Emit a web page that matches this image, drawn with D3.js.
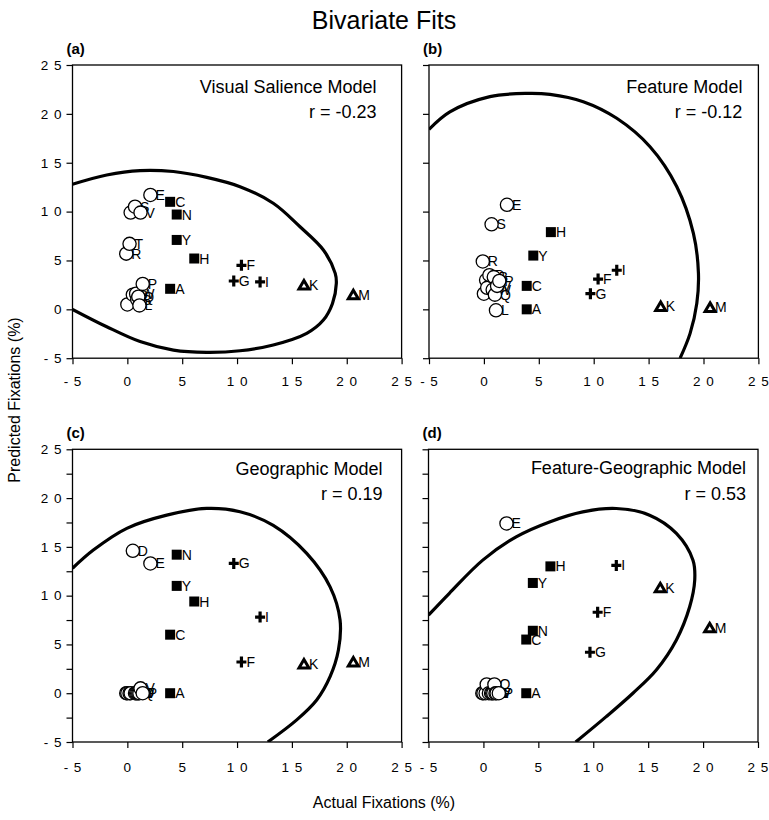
<!DOCTYPE html>
<html><head><meta charset="utf-8">
<script src="https://cdn.jsdelivr.net/npm/d3@7"></script>
<style>
body{margin:0;background:#fff}
text{font-family:"Liberation Sans",Arial,Helvetica,sans-serif;fill:#000}
</style>
</head><body>
<svg id="chart" width="769" height="820"></svg>
<script>
// ---- data ----
const letters = ["A","C","H","N","Y","F","G","I","K","M","B","D","E","J","L","O","P","Q","R","S","T","V","W"];
const markerTypes = ["square","square","square","square","square","plus","plus","plus","triangle","triangle",
  "circle","circle","circle","circle","circle","circle","circle","circle","circle","circle","circle","circle","circle"];
const actualFix = [3.9,3.9,6.1,4.5,4.5,10.4,9.7,12.1,16.1,20.6, 0.9,0.5,2.1,0.3,1.1,0.0,1.4,1.0,-0.1,0.7,0.2,1.2,0.8];
const predSalience   = [2.1,11.0,5.2,9.7,7.1,4.5,2.9,2.8,2.5,1.5, 1.0,1.5,11.7,9.9,0.4,0.5,2.6,1.3,5.7,10.5,6.7,9.9,1.6];
const predFeature    = [0.0,2.4,7.9,null,5.5,3.1,1.6,4.0,0.3,0.2, 3.3,3.5,10.7,2.2,-0.1,1.6,2.9,1.5,4.9,8.7,3.0,2.4,2.0];
const predGeographic = [0.0,6.0,9.4,14.2,11.0,3.2,13.3,7.8,3.0,3.2, 0.0,14.6,13.3,0.0,0.0,0.0,0.0,0.0,0.0,0.0,0.0,0.5,0.0];
const predFeatGeo    = [0.0,5.5,13.0,6.4,11.3,8.3,4.2,13.1,10.8,6.7, 0.0,0.0,17.4,0.9,0.0,0.0,0.0,0.9,0.0,0.0,0.0,0.0,0.0];

const ellipseSalience = [[-5,12.8],[-1.88,13.75],[1.16,14.2],[4.2,14.1],[7.24,13.5],[10.27,12.55],[13.3,10.85],[15.74,8.45],[17.87,6.07],[18.95,3.68],[19.05,2.66],[18.7,0.6],[17.87,-1.1],[16.35,-2.46],[13.3,-3.65],[10.27,-4.24],[7.24,-4.4],[4.2,-4.17],[1.16,-3.3],[-1.88,-1.78],[-5,0.0]];
const ellipseFeature = [[-5,18.4],[-3.1,20.2],[0.55,21.76],[3.89,22.1],[6.02,22.0],[9.05,21.25],[12.1,19.55],[15.13,16.64],[17.57,12.55],[19.08,7.78],[19.54,3.68],[19.39,0.61],[18.78,-2.46],[17.87,-5.0]];
const ellipseGeographic = [[-5,12.8],[-3.1,14.67],[-0.05,16.9],[3.59,18.25],[7.24,18.94],[10.27,18.6],[13.3,17.2],[16.35,14.33],[18.48,10.9],[19.39,7.5],[19.24,4.43],[18.48,1.7],[17.26,-0.69],[15.44,-2.73],[12.8,-5.0]];
const ellipseFeatGeo = [[-5,8.0],[-3.1,10.24],[-0.06,13.64],[2.98,16.03],[6.02,17.56],[9.05,18.59],[12.1,18.93],[15.13,18.25],[17.57,16.38],[19.08,13.64],[19.24,11.6],[18.78,8.86],[17.57,5.46],[15.74,2.38],[13.61,0.0],[11.18,-2.4],[8.4,-5.0]];

const modelNames = ["Visual Salience Model","Feature Model","Geographic Model","Feature-Geographic Model"];
const rTexts = ["r = -0.23","r = -0.12","r = 0.19","r = 0.53"];
const panelTags = ["(a)","(b)","(c)","(d)"];
const tickValues = [-5,0,5,10,15,20,25];
const tickLabels = ["- 5","0","5","1 0","1 5","2 0","2 5"];
const axisDomain = [-5,25];

// ---- layout ----
const svg = d3.select("#chart");
const panels = [
  {x0:72.5, x1:401.6, y0:65,    y1:358.2, pred:predSalience,   ell:ellipseSalience,   yLabels:true,  minor:false, xlab:28, tx:-25, ty1:93, ty2:118},
  {x0:429,  x1:758.4, y0:65,    y1:358.2, pred:predFeature,    ell:ellipseFeature,    yLabels:false, minor:false, xlab:28, tx:-16, ty1:93, ty2:118},
  {x0:72.5, x1:401.6, y0:449.3, y1:742,   pred:predGeographic, ell:ellipseGeographic, yLabels:true,  minor:true,  xlab:30, tx:-19, ty1:475, ty2:500},
  {x0:428.5,x1:758,   y0:449.3, y1:742,   pred:predFeatGeo,    ell:ellipseFeatGeo,    yLabels:false, minor:true,  xlab:30, tx:-12, ty1:474, ty2:500}
];

svg.append("text").attr("x",384).attr("y",29).attr("text-anchor","middle")
  .attr("font-size",25).text("Bivariate Fits");
svg.append("text").attr("transform","translate(20,400) rotate(-90)").attr("text-anchor","middle")
  .attr("font-size",16).text("Predicted Fixations (%)");
svg.append("text").attr("x",384).attr("y",808).attr("text-anchor","middle")
  .attr("font-size",16).text("Actual Fixations (%)");

panels.forEach((p,i)=>{
  const x = d3.scaleLinear().domain(axisDomain).range([p.x0,p.x1]);
  const y = d3.scaleLinear().domain(axisDomain).range([p.y1,p.y0]);
  const g = svg.append("g");

  g.append("clipPath").attr("id","clip"+i).append("rect")
    .attr("x",p.x0).attr("y",p.y0).attr("width",p.x1-p.x0).attr("height",p.y1-p.y0);

  // frame
  g.append("rect").attr("x",p.x0).attr("y",p.y0).attr("width",p.x1-p.x0).attr("height",p.y1-p.y0)
    .attr("fill","none").attr("stroke","#000").attr("stroke-width",1.3);

  // y axis
  const yTicks = p.minor ? d3.range(-5,25.01,2.5) : tickValues;
  const yAxis = d3.axisLeft(y).tickValues(yTicks).tickSize(6).tickPadding(4)
    .tickFormat(v => p.yLabels && tickValues.indexOf(v)>=0 ? tickLabels[tickValues.indexOf(v)] : "");
  const ya = g.append("g").attr("transform",`translate(${p.x0},0)`).call(yAxis);
  ya.select(".domain").remove();
  ya.selectAll("line").attr("stroke-width",1.2);
  ya.selectAll("text").attr("font-size",13.5).attr("letter-spacing",1)
    .style("font-family","'Liberation Sans',Arial,sans-serif");

  // x axis
  const xAxis = d3.axisBottom(x).tickValues(tickValues).tickSize(6).tickPadding(0)
    .tickFormat((v,k)=>tickLabels[k]);
  const xa = g.append("g").attr("transform",`translate(0,${p.y1})`).call(xAxis);
  xa.select(".domain").remove();
  xa.selectAll("line").attr("stroke-width",1.2);
  xa.selectAll("text").attr("font-size",13.5).attr("letter-spacing",1).attr("dy",null).attr("y",p.xlab)
    .style("font-family","'Liberation Sans',Arial,sans-serif");

  // ellipse
  const line = d3.line().x(d=>x(d[0])).y(d=>y(d[1])).curve(d3.curveCatmullRom.alpha(0.5));
  g.append("path").attr("clip-path",`url(#clip${i})`).attr("d",line(p.ell))
    .attr("fill","none").attr("stroke","#000").attr("stroke-width",3.2);

  // model text
  g.append("text").attr("x",p.x1+p.tx).attr("y",p.ty1).attr("text-anchor","end")
    .attr("font-size",18).text(modelNames[i]);
  g.append("text").attr("x",p.x1+p.tx).attr("y",p.ty2).attr("text-anchor","end")
    .attr("font-size",18).text(rTexts[i]);
  g.append("text").attr("x",p.x0-6).attr("y",p.y0-11).attr("font-size",15).attr("font-weight","bold")
    .text(panelTags[i]);

  // points
  const pts = letters.map((l,k)=>({l, t:markerTypes[k], x:actualFix[k], y:p.pred[k]}))
    .filter(d=>d.y!==null).sort((a,b)=>a.x-b.x);
  const pg = g.append("g");
  pg.selectAll("text.lbl").data(pts).join("text").attr("class","lbl")
    .attr("x",d=>x(d.x)+5).attr("y",d=>y(d.y)+5).attr("font-size",14).text(d=>d.l);
  pts.forEach(d=>{
    const cx = x(d.x), cy = y(d.y);
    if(d.t==="circle"){
      pg.append("circle").attr("cx",cx).attr("cy",cy).attr("r",6.6)
        .attr("fill","#fff").attr("stroke","#000").attr("stroke-width",1.3);
    } else if(d.t==="square"){
      pg.append("rect").attr("x",cx-5).attr("y",cy-5).attr("width",10).attr("height",10).attr("fill","#000");
    } else if(d.t==="plus"){
      pg.append("path").attr("d",`M${cx-5},${cy}H${cx+5}M${cx},${cy-5.5}V${cy+5.5}`)
        .attr("stroke","#000").attr("stroke-width",3.2).attr("fill","none");
    } else {
      pg.append("path").attr("d",`M${cx},${cy-4.5}L${cx+5},${cy+4}L${cx-5},${cy+4}Z`)
        .attr("stroke","#000").attr("stroke-width",3).attr("stroke-linejoin","miter").attr("fill","#fff");
    }
  });
});
</script>
</body></html>
